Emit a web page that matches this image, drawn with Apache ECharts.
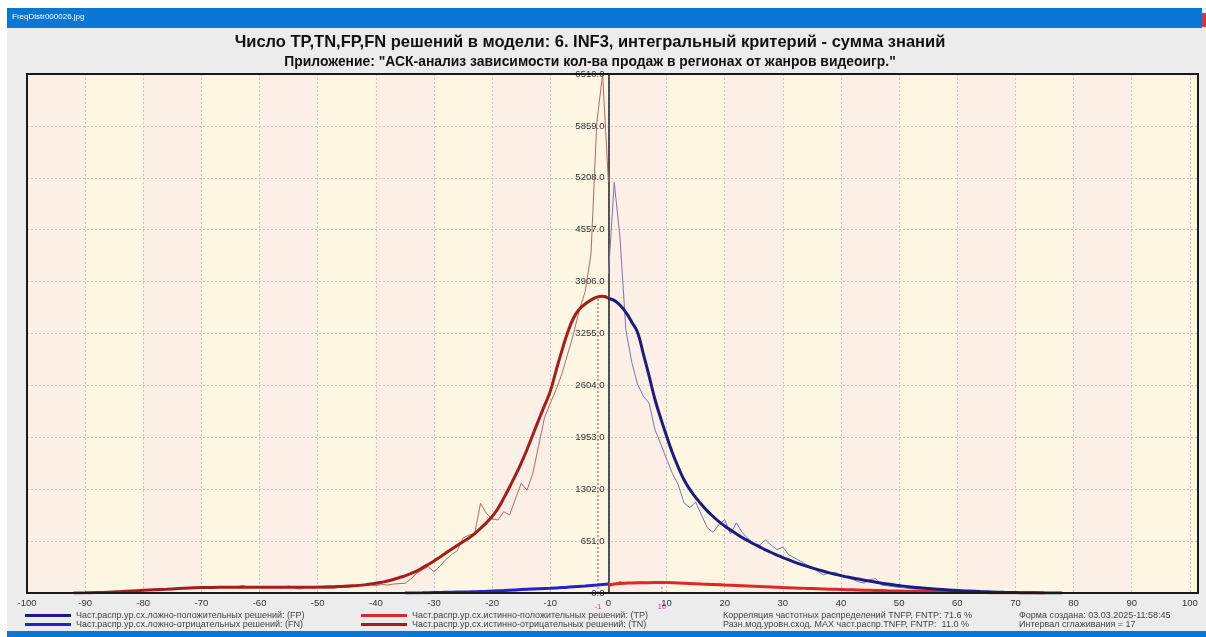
<!DOCTYPE html>
<html>
<head>
<meta charset="utf-8">
<script src="https://cdn.jsdelivr.net/npm/echarts@6/dist/echarts.min.js"></script>
<style>
html,body{margin:0;padding:0;background:#fff;}
#c{width:1206px;height:637px;}
</style>
</head>
<body>
<div id="c"></div>
<script>
// ---------- DATA ----------
const titleText = 'Число TP,TN,FP,FN решений в модели: 6. INF3, интегральный критерий - сумма знаний';
const subtitleText = 'Приложение: "АСК-анализ зависимости кол-ва продаж в регионах от жанров видеоигр."';
const windowTitle = 'FreqDistr000026.jpg';

const xTicks = [-100,-90,-80,-70,-60,-50,-40,-30,-20,-10,0,10,20,30,40,50,60,70,80,90,100];
const yTicks = [0,651,1302,1953,2604,3255,3906,4557,5208,5859,6510];

const nameFP = 'Част.распр.ур.сх.ложно-положительных решений: (FP)';
const nameFN = 'Част.распр.ур.сх.ложно-отрицательных решений: (FN)';
const nameTP = 'Част.распр.ур.сх.истинно-положительных решений: (TP)';
const nameTN = 'Част.распр.ур.сх.истинно-отрицательных решений: (TN)';

const infoLines1 = ['Корреляция частотных распределений TNFP, FNTP: 71.6 %', 'Разн.мод.уровн.сход. MAX част.распр.TNFP, FNTP:  11.0 %'];
const infoLines2 = ['Форма создана: 03.03.2025-11:58:45', 'Интервал сглаживания = 17'];

// mode markers (position, height, label)
const modeX = [-1.8, 9.2];
const modeY = [3725, 105];
const modeLabels = ['-1', '10'];

// TN raw (thin)
const tnRaw = [[-92,0],[-90,0],[-88,4],[-87,8],[-86,12],[-85,10],[-84,18],[-83,22],[-82,26],[-81,30],[-80,35],[-79,40],[-78,48],[-77,45],[-76,55],[-75,50],[-74,60],[-73,58],[-72,64],[-71,62],[-70,75],[-69,82],[-68,70],[-67,72],[-66,66],[-65,74],[-64,70],[-63,95],[-62,75],[-61,70],[-60,72],[-59,68],[-58,75],[-57,70],[-56,66],[-55,88],[-54,62],[-53,48],[-52,82],[-51,66],[-50,72],[-49,60],[-48,58],[-47,62],[-46,74],[-45,70],[-44,80],[-43,108],[-42,95],[-41,104],[-40,92],[-39,108],[-38,100],[-37,112],[-36,118],[-35,121],[-34,175],[-33,245],[-32,290],[-31,330],[-30,268],[-29,335],[-28,420],[-27,480],[-26,530],[-25,690],[-24,727],[-23,745],[-22,1125],[-21,1000],[-20,930],[-19,916],[-18,1020],[-17,978],[-16,1180],[-15,1376],[-14,1290],[-13,1500],[-12,1850],[-11,2200],[-10,2380],[-9,2550],[-8,2750],[-7,3000],[-6,3250],[-5,3550],[-4,3780],[-3,4250],[-2,5900],[-1,6510],[0,5150]];
// TN smoothed (thick)
const tnSmooth = [[-92,0],[-90,2],[-88,5],[-86,10],[-84,17],[-82,25],[-80,33],[-78,40],[-76,47],[-74,55],[-72,62],[-70,68],[-67,71],[-64,72],[-60,72],[-56,72],[-52,73],[-48,78],[-46,83],[-44,90],[-42,102],[-40,122],[-39,135],[-38,150],[-37,170],[-36,192],[-35,215],[-34,243],[-33,275],[-32,315],[-31,358],[-30,402],[-29,450],[-28,500],[-27,550],[-26,597],[-25,643],[-24,690],[-23,745],[-22,810],[-21,880],[-20,960],[-19,1060],[-18,1190],[-17,1330],[-16,1475],[-15,1630],[-14,1800],[-13,1985],[-12,2170],[-11,2350],[-10,2530],[-9,2790],[-8,3040],[-7,3270],[-6,3450],[-5,3560],[-4,3625],[-3,3675],[-2,3712],[-1,3722],[0,3695]];
// FP raw (thin)
const fpRaw = [[0,4000],[1,5150],[2,4450],[3,3300],[4,2900],[5,2620],[6,2470],[7,2380],[8,2050],[9,1870],[10,1680],[11,1500],[12,1360],[13,1130],[14,1070],[15,1140],[16,980],[17,820],[18,760],[19,860],[20,920],[21,740],[22,880],[23,760],[24,680],[25,625],[26,600],[27,665],[28,600],[29,545],[30,575],[31,480],[32,440],[33,400],[34,360],[35,325],[36,270],[37,226],[38,255],[39,260],[40,225],[41,205],[42,170],[43,140],[44,125],[45,170],[46,180],[47,100],[48,90],[49,80],[50,70],[52,55],[54,45],[56,40],[58,30],[60,25],[62,18],[64,12],[66,10],[68,5],[70,3],[72,0]];
// FP smoothed (thick)
const fpSmooth = [[0,3695],[1,3670],[2,3610],[3,3520],[4,3400],[5,3270],[6,3000],[7,2720],[8,2430],[9,2190],[10,1970],[11,1760],[12,1580],[13,1420],[14,1300],[15,1200],[16,1110],[17,1030],[18,960],[19,895],[20,840],[21,790],[22,742],[23,697],[24,655],[25,615],[26,578],[27,542],[28,508],[29,476],[30,445],[32,388],[34,338],[36,293],[38,253],[40,218],[42,188],[44,160],[46,135],[48,112],[50,93],[52,76],[54,62],[56,50],[58,40],[60,31],[62,24],[64,18],[66,13],[68,9],[70,6],[72,3],[75,1],[78,0]];
// TP raw (thin)
const tpRaw = [[0,70],[1,110],[2,145],[3,115],[4,125],[5,135],[6,140],[7,130],[8,128],[9,138],[10,130],[11,124],[12,132],[13,120],[14,118],[15,112],[16,110],[17,100],[18,108],[19,122],[20,95],[21,100],[22,92],[23,88],[24,90],[25,80],[26,84],[27,76],[28,80],[29,70],[30,72],[31,66],[32,64],[33,58],[34,60],[35,54],[36,50],[37,56],[38,48],[39,44],[40,42],[42,38],[44,34],[46,30],[48,27],[50,24],[52,20],[54,17],[56,14],[58,11],[60,8],[62,6],[64,4],[66,2],[68,1],[70,0]];
// TP smoothed (thick)
const tpSmooth = [[0,100],[2,118],[4,126],[6,129],[8,131],[10,131],[12,126],[14,120],[16,113],[18,106],[20,99],[22,93],[24,87],[26,81],[28,75],[30,69],[32,64],[34,58],[36,53],[38,48],[40,44],[42,40],[44,36],[46,32],[48,28],[50,25],[52,22],[54,19],[56,16],[58,13],[60,10],[62,8],[64,6],[66,4],[68,3],[70,2],[72,1],[75,0]];
// FN smoothed (thick)
const fnSmooth = [[-35,0],[-32,2],[-30,5],[-28,8],[-26,11],[-24,14],[-22,18],[-20,24],[-18,31],[-16,39],[-14,46],[-12,53],[-10,60],[-8,68],[-6,77],[-4,88],[-2,100],[0,113]];

// ---------- BUILD ----------
const FONT = "'Liberation Sans', Arial, sans-serif";
const xMax = 101.4;
const GRID_LEFT = 27;
const bandPink = '#fcefe6', bandYellow = '#fcf6e3';
const bands = [];
for (let i = 0; i < xTicks.length - 1; i++) {
  bands.push([{xAxis: xTicks[i], itemStyle: {color: i % 2 === 0 ? bandPink : bandYellow}}, {xAxis: xTicks[i + 1]}]);
}
bands.push([{xAxis: xTicks[xTicks.length - 1], itemStyle: {color: bandYellow}}, {xAxis: xMax}]);

const chart = echarts.init(document.getElementById('c'), null, {renderer: 'canvas'});
const gridCol = '#cbc6c0';
const modeSeries = modeX.map((mx, i) => ({
  type: 'line', name: 'mode' + i, data: [[mx, 0], [mx, modeY[i]]], z: 3, showSymbol: false,
  lineStyle: {color: i === 0 ? '#a04848' : '#b07090', width: 1, type: [2, 2]}
}));
const option = {
  animation: false,
  backgroundColor: '#ececec',
  textStyle: {fontFamily: FONT},
  grid: {left: GRID_LEFT, right: 8, top: 74, bottom: 44, show: true, z: 5, borderColor: '#1a1a1a', borderWidth: 2,
         backgroundColor: 'rgba(0,0,0,0)', containLabel: false, outerBoundsMode: 'none'},
  xAxis: {
    type: 'value', min: xTicks[0], max: xMax, interval: 10, z: 2,
    axisLine: {show: false, onZero: false},
    axisTick: {show: false},
    splitLine: {show: true, lineStyle: {color: gridCol, type: [2, 2], width: 1}},
    axisLabel: {color: '#333', fontSize: 9.5, fontFamily: FONT, margin: 5,
      formatter: v => (xTicks.indexOf(v) >= 0 ? String(v) : '')}
  },
  yAxis: {
    type: 'value', min: yTicks[0], max: yTicks[yTicks.length - 1], interval: 651, z: 2,
    position: 'left', offset: 0,
    axisLine: {show: true, onZero: false, lineStyle: {color: '#222', width: 1.5}},
    axisTick: {show: false},
    splitLine: {show: true, lineStyle: {color: gridCol, type: [2, 2], width: 1}},
    axisLabel: {color: '#333', fontSize: 9.5, fontFamily: FONT, margin: 4, formatter: v => v.toFixed(1)}
  },
  legend: [
    {left: 25, top: 611, orient: 'vertical', padding: 0, itemGap: 0, itemWidth: 46, itemHeight: 3, icon: 'rect',
     textStyle: {fontSize: 9, color: '#444', lineHeight: 9, fontFamily: FONT}, data: [nameFP, nameFN], selectedMode: false},
    {left: 361, top: 611, orient: 'vertical', padding: 0, itemGap: 0, itemWidth: 46, itemHeight: 3, icon: 'rect',
     textStyle: {fontSize: 9, color: '#444', lineHeight: 9, fontFamily: FONT}, data: [nameTP, nameTN], selectedMode: false}
  ],
  series: [
    {type: 'line', name: 'TN raw', data: tnRaw, z: 3, showSymbol: false, smooth: false,
     lineStyle: {color: '#b26a62', width: 1}, itemStyle: {color: '#b26a62'},
     markArea: {silent: true, z: 1, data: bands}},
    {type: 'line', name: 'FP raw', data: fpRaw, z: 3, showSymbol: false, smooth: false,
     lineStyle: {color: '#7676b4', width: 1}, itemStyle: {color: '#7676b4'}},
    {type: 'line', name: 'TP raw', data: tpRaw, z: 3, showSymbol: false, smooth: false,
     lineStyle: {color: '#e86060', width: 1}, itemStyle: {color: '#e86060'}},
    {type: 'line', name: nameFN, data: fnSmooth, z: 4, showSymbol: false, smooth: true,
     lineStyle: {color: '#2222d0', width: 3}, itemStyle: {color: '#2222d0'}},
    {type: 'line', name: nameTP, data: tpSmooth, z: 4, showSymbol: false, smooth: true,
     lineStyle: {color: '#e02626', width: 3}, itemStyle: {color: '#e02626'}},
    {type: 'line', name: nameTN, data: tnSmooth, z: 4, showSymbol: false, smooth: true,
     lineStyle: {color: '#a51c1c', width: 3}, itemStyle: {color: '#a51c1c'}},
    {type: 'line', name: nameFP, data: fpSmooth, z: 4, showSymbol: false, smooth: true,
     lineStyle: {color: '#1c1c80', width: 3}, itemStyle: {color: '#1c1c80'}},
    ...modeSeries,
    {type: 'scatter', name: 'mode labels', data: modeX.map(mx => [mx, 0]), symbolSize: 0, clip: false, z: 6,
     label: {show: true, position: 'bottom', distance: 10, color: '#c0188c', fontSize: 8, fontFamily: FONT,
       formatter: p => modeLabels[p.dataIndex]}}
  ],
  graphic: [
    {type: 'rect', left: 0, top: 0, shape: {width: 1206, height: 8}, style: {fill: '#ffffff'}, z: 10},
    {type: 'rect', left: 0, top: 0, shape: {width: 7, height: 637}, style: {fill: '#ffffff'}, z: 10},
    {type: 'rect', left: 7, top: 8, shape: {width: 1195, height: 20}, style: {fill: '#0a76d6'}, z: 10},
    {type: 'rect', left: 1202, top: 13, shape: {width: 4, height: 14}, style: {fill: '#d23838'}, z: 10},
    {type: 'rect', left: 7, top: 631, shape: {width: 1199, height: 6}, style: {fill: '#0a76d6'}, z: 10},
    {type: 'text', left: 12, top: 13, style: {text: windowTitle, fill: '#ffffff', font: '8px ' + FONT}, z: 11},
    {type: 'text', x: 590, y: 42, style: {text: titleText, fill: '#111', font: 'bold 16.5px ' + FONT, textAlign: 'center', textVerticalAlign: 'middle'}, z: 11},
    {type: 'text', x: 590, y: 62, style: {text: subtitleText, fill: '#111', font: 'bold 13.9px ' + FONT, textAlign: 'center', textVerticalAlign: 'middle'}, z: 11},
    {type: 'text', x: 723, y: 616, style: {text: infoLines1[0], fill: '#444', font: '9px ' + FONT, textVerticalAlign: 'middle'}, z: 11},
    {type: 'text', x: 723, y: 625, style: {text: infoLines1[1], fill: '#444', font: '9px ' + FONT, textVerticalAlign: 'middle'}, z: 11},
    {type: 'text', x: 1019, y: 616, style: {text: infoLines2[0], fill: '#444', font: '9px ' + FONT, textVerticalAlign: 'middle'}, z: 11},
    {type: 'text', x: 1019, y: 625, style: {text: infoLines2[1], fill: '#444', font: '9px ' + FONT, textVerticalAlign: 'middle'}, z: 11}
  ]
};
chart.setOption(option);
// move the y axis (line + labels) to x = 0, as in the original
const zeroPx = chart.convertToPixel({xAxisIndex: 0}, 0);
chart.setOption({yAxis: {offset: -(zeroPx - GRID_LEFT)}});
</script>
</body>
</html>
